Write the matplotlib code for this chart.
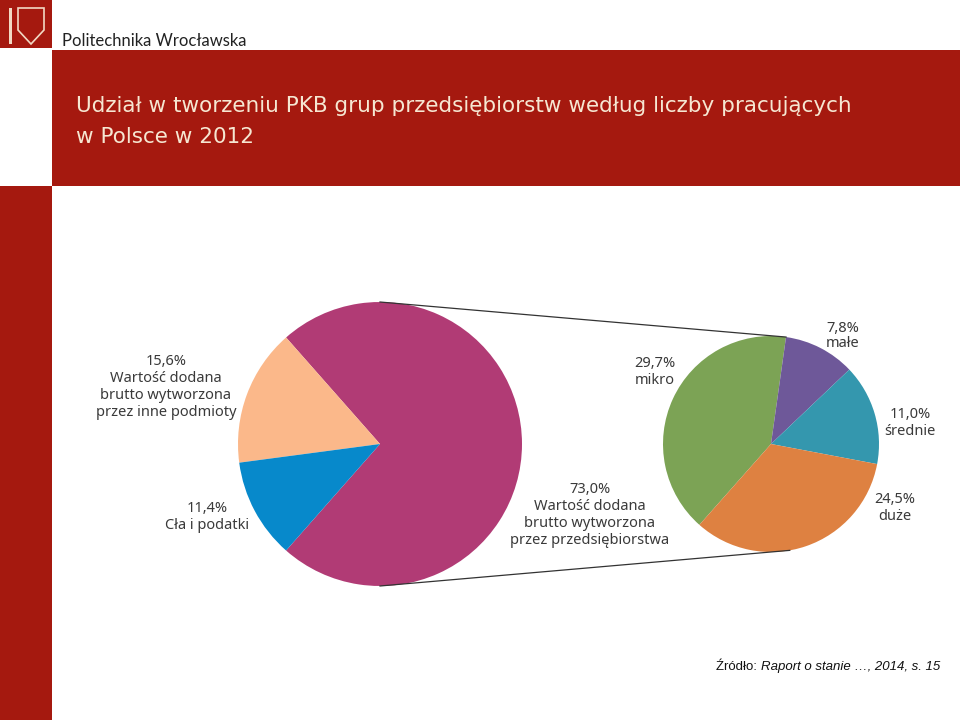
import numpy as np
import matplotlib.pyplot as plt
from matplotlib.patches import Rectangle, Polygon

plt.rcParams['font.family'] = ['Noto Sans', 'DejaVu Sans']

# data - main pie (share in GDP, %)
main_labels = ['Wartość dodana\nbrutto wytworzona\nprzez przedsiębiorstwa',
               'Wartość dodana\nbrutto wytworzona\nprzez inne podmioty',
               'Cła i podatki']
main_values = [73.0, 15.6, 11.4]
main_colors = ['#B13B75', '#FBB88A', '#0789CB']

# data - enterprises split by size (%, sums to 73.0)
size_labels = ['mikro', 'małe', 'średnie', 'duże']
size_values = [29.7, 7.8, 11.0, 24.5]
size_colors = ['#7CA355', '#6E5899', '#3497AE', '#DE8141']

title1 = 'Udział w tworzeniu PKB grup przedsiębiorstw według liczby pracujących'
title2 = 'w Polsce w 2012'
red = '#A5190F'
txt = '#3A3A3A'

W, H = 960, 720
fig = plt.figure(figsize=(9.6, 7.2), dpi=100)
ax = fig.add_axes([0, 0, 1, 1])

def Y(p):
    return H - p

# slide frame
ax.add_patch(Rectangle((0, Y(48)), 52, 48, color=red, lw=0))
ax.add_patch(Rectangle((0, 0), 52, Y(186), color=red, lw=0))
ax.add_patch(Rectangle((52, Y(186)), W - 52, 136, color=red, lw=0))
# small shield in the logo
ax.add_patch(Polygon([(18, Y(8)), (44, Y(8)), (44, Y(30)), (31, Y(44)), (18, Y(30))],
                     closed=True, fc='none', ec='#F2D9C4', lw=1.2))
ax.add_patch(Rectangle((9, Y(44)), 3, 36, color='#F2D9C4', lw=0))
ax.text(62, Y(46), 'Politechnika Wrocławska', fontsize=12, color='#222222',
        family=['Lato', 'DejaVu Sans'], va='baseline')
ax.text(76, Y(112), title1, fontsize=15.5, color='#F6E7D2', va='baseline',
        family=['DejaVu Sans'])
ax.text(76, Y(143), title2, fontsize=15.5, color='#F6E7D2', va='baseline',
        family=['DejaVu Sans'])

# main pie
c1, r1 = (380, Y(444)), 142
start1 = -main_values[0] / 100 * 180
ax.pie(main_values, colors=main_colors, center=c1, radius=r1,
       startangle=start1, counterclock=True, frame=True,
       wedgeprops=dict(lw=0))

# breakdown pie
c2, r2 = (771, Y(444)), 108
frac = np.array(size_values) / sum(size_values)
start2 = 82 + frac[0] * 360
ax.pie(size_values, colors=size_colors, center=c2, radius=r2,
       startangle=start2, counterclock=False, frame=True,
       wedgeprops=dict(lw=0))
ax.set_xlim(0, W)
ax.set_ylim(0, H)
ax.set_aspect('equal')
ax.axis('off')

# connector lines
for ang in (82, -80):
    a = np.deg2rad(ang)
    ax.plot([c1[0], c2[0] + r2 * np.cos(a)],
            [c1[1] + np.sign(ang) * r1, c2[1] + r2 * np.sin(a)],
            color='#333333', lw=0.9)

fs = 10.5
def lab(x, y, s, ls=1.2):
    ax.text(x, Y(y), s, ha='center', va='center', fontsize=fs, color=txt,
            linespacing=ls)

def pct(v):
    return f'{v:.1f}%'.replace('.', ',')

lab(166, 387, pct(main_values[1]) + '\n' + main_labels[1])
lab(207, 517, pct(main_values[2]) + '\n' + main_labels[2])
lab(590, 515, pct(main_values[0]) + '\n' + main_labels[0])
lab(655, 372, pct(size_values[0]) + '\n' + size_labels[0])
lab(843, 336, pct(size_values[1]) + '\n' + size_labels[1], ls=1.0)
lab(910, 423, pct(size_values[2]) + '\n' + size_labels[2])
lab(895, 508, pct(size_values[3]) + '\n' + size_labels[3])

# source
t2 = ax.text(940, Y(670), 'Raport o stanie …, 2014, s. 15', fontsize=9.5,
             color='#111111', family=['Liberation Sans'], style='italic',
             ha='right', va='baseline')
ax.annotate('Źródło: ', xy=(0, 0), xycoords=t2, fontsize=9.5, color='#111111',
            family=['Liberation Sans'], ha='right', va='bottom')

fig.savefig('out.png', dpi=100, facecolor='white')
